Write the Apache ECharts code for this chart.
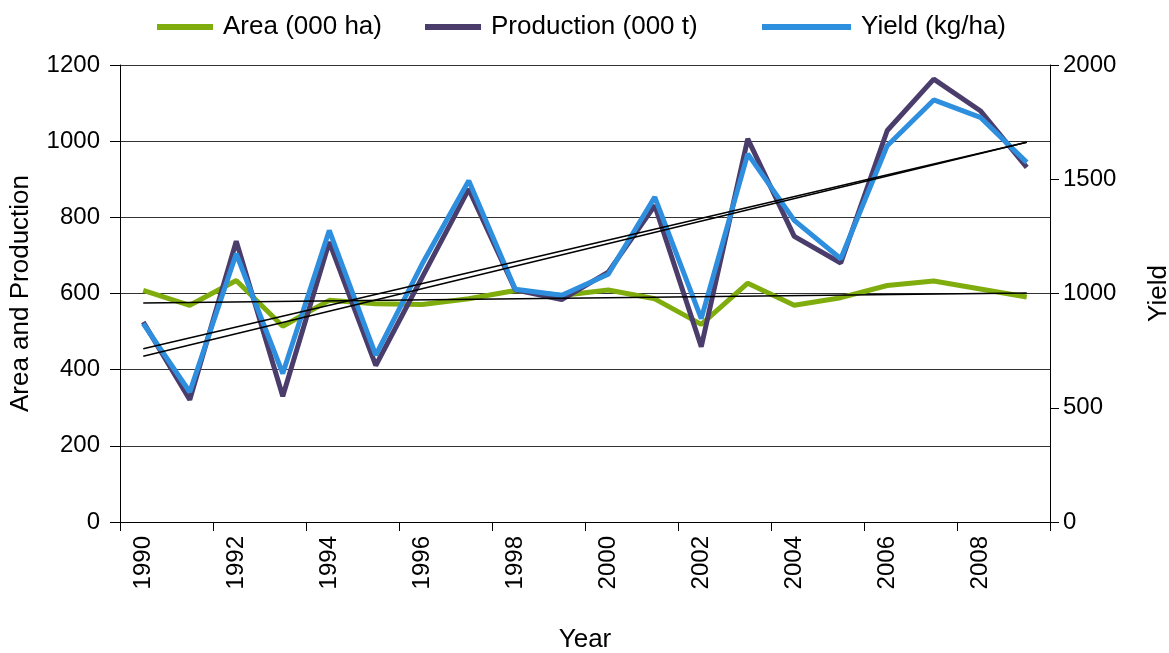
<!DOCTYPE html>
<html>
<head>
<meta charset="utf-8">
<script src="https://cdn.jsdelivr.net/npm/echarts@6/dist/echarts.min.js"></script>
<style>
	html, body { margin: 0; padding: 0; background: #fff; }
	#chart { width: 1169px; height: 653px; }
</style>
</head>
<body>
<div id="chart"></div>
<script>
	// years on the x axis
	let years = ['1990','1991','1992','1993','1994','1995','1996','1997','1998','1999',
		'2000','2001','2002','2003','2004','2005','2006','2007','2008','2009'];
	// values
	let area = [608, 569, 634, 514, 582, 573, 571, 586, 608, 595,
		609, 586, 519, 627, 569, 589, 621, 633, 612, 591];
	let production = [525, 321, 737, 330, 735, 411, 643, 874, 610, 584,
		656, 831, 460, 1006, 750, 680, 1028, 1163, 1080, 931];
	let yieldKg = [868, 569, 1174, 650, 1276, 730, 1130, 1494, 1019, 992,
		1084, 1422, 890, 1611, 1320, 1152, 1647, 1847, 1771, 1574];
	// trend line ends (first year, last year)
	let areaTrend = [575, 601];
	let productionTrend = [435, 997];
	let yieldTrend = [758, 1662];

	let font = 'Liberation Sans, Arial, sans-serif';
	let chart = echarts.init(document.getElementById('chart'));

	let trend = function(ends){
		return {
			silent: true,
			symbol: 'none',
			label: { show: false },
			lineStyle: { color: '#000', width: 1.5, type: 'solid' },
			data: [[
				{ coord: [years[0], ends[0]] },
				{ coord: [years[years.length - 1], ends[1]] }
			]]
		};
	};

	let series_template = function(name, data, color, axis, ends){
		return {
			name: name,
			type: 'line',
			yAxisIndex: axis,
			data: data,
			symbol: 'none',
			lineStyle: { color: color, width: 5 },
			itemStyle: { color: color },
			markLine: trend(ends),
			animation: false
		};
	};

	// one legend per item so each sits where the original puts it
	let legend_template = function(name, left, width){
		return {
			top: 9,
			left: left,
			itemWidth: width,
			itemHeight: 6,
			icon: 'rect',
			textStyle: { fontSize: 26, color: '#000', fontFamily: font, padding: [0, 0, 0, 5] },
			data: [name]
		};
	};

	let plain = function(v){ return String(v); };

	chart.setOption({
		animation: false,
		textStyle: { fontFamily: font },
		legend: [
			legend_template('Area (000 ha)', 152, 56),
			legend_template('Production (000 t)', 420, 56),
			legend_template('Yield (kg/ha)', 757, 89)
		],
		grid: { left: 120, right: 119, top: 65, bottom: 131, containLabel: false, outerBoundsMode: 'none' },
		xAxis: {
			type: 'category',
			data: years,
			name: 'Year',
			nameLocation: 'middle',
			nameGap: 105,
			nameTextStyle: { fontSize: 26, color: '#000' },
			axisLine: { lineStyle: { color: '#000', width: 1 } },
			axisTick: { show: true, interval: 1, length: 9, lineStyle: { color: '#000' } },
			axisLabel: { interval: 1, rotate: 90, fontSize: 24, color: '#000', margin: 14 },
			splitLine: { show: false }
		},
		yAxis: [
			{
				type: 'value',
				min: 0, max: 1200, interval: 200,
				name: 'Area and Production',
				nameLocation: 'middle',
				nameGap: 86,
				nameTextStyle: { fontSize: 26, color: '#000' },
				axisLine: { show: true, lineStyle: { color: '#000' } },
				axisTick: { show: true, length: 10, lineStyle: { color: '#000' } },
				axisLabel: { fontSize: 24, color: '#000', margin: 20, formatter: plain },
				splitLine: { lineStyle: { color: '#333', width: 1 } }
			},
			{
				type: 'value',
				min: 0, max: 2000, interval: 500,
				name: 'Yield',
				nameLocation: 'middle',
				nameGap: 96,
				nameTextStyle: { fontSize: 26, color: '#000' },
				axisLine: { show: true, lineStyle: { color: '#000' } },
				axisTick: { show: true, length: 9, lineStyle: { color: '#000' } },
				axisLabel: { fontSize: 24, color: '#000', margin: 13, formatter: plain },
				splitLine: { show: false }
			}
		],
		series: [
			series_template('Area (000 ha)', area, '#80ad0e', 0, areaTrend),
			series_template('Production (000 t)', production, '#4b3d6b', 0, productionTrend),
			series_template('Yield (kg/ha)', yieldKg, '#2f8fdf', 1, yieldTrend)
		]
	});
</script>
</body>
</html>
